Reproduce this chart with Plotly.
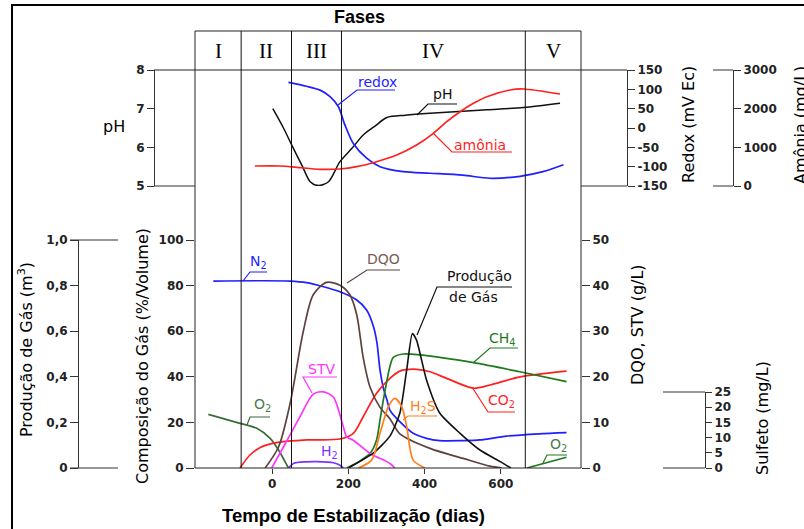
import plotly.graph_objects as go

W, H = 804, 529

# ---------------- data ----------------
phase_names = ["I", "II", "III", "IV", "V"]
phase_bounds = [-202, -81, 51, 182, 664, 810]
x_ticks = [0, 200, 400, 600]

# upper panel
ph_days = [2, 30, 52, 80, 100, 121, 148, 178, 210, 239, 270, 301, 350, 414, 500, 563, 659, 755]
ph_vals = [7.0, 6.5, 6.05, 5.5, 5.11, 5.01, 5.11, 5.63, 5.98, 6.32, 6.55, 6.77, 6.83, 6.88, 6.93, 6.97, 7.03, 7.14]
redox_days = [43, 90, 126, 152, 174, 191, 213, 248, 283, 344, 414, 500, 571, 650, 710, 764]
redox_vals = [118, 108, 98, 81, 55, 8, -40, -78, -100, -113, -117, -122, -130, -125, -113, -95]
amm_days = [-45, 21, 65, 126, 178, 222, 274, 327, 379, 423, 458, 493, 528, 563, 624, 659, 755]
amm_vals = [517, 517, 483, 432, 440, 500, 628, 802, 1060, 1363, 1663, 1921, 2138, 2310, 2483, 2509, 2379]

# lower panel: gas composition (%)
n2_days = [-154, 47, 91, 135, 178, 222, 248, 266, 275, 283, 292, 301, 309, 335, 370, 405, 440, 500, 545, 615, 700, 772]
n2_vals = [82, 82, 81.3, 79.5, 77.3, 73.7, 69.3, 62, 55, 43, 35, 30, 25.4, 20.3, 15.2, 13, 12, 12, 12.3, 14, 15, 15.5]
o2_days = [-167, -84, -40, -5, 17, 34, 43]
o2_vals = [23.5, 19.6, 17.4, 13, 7.9, 2.8, 0]
o2b_days = [668, 772]
o2b_vals = [0, 4.7]
h2_days = [43, 56, 90, 117, 161, 178, 187]
h2_vals = [0, 2, 2.7, 2.8, 2.3, 1.2, 0]
co2_days = [-84, -58, -31, 12, 91, 178, 213, 239, 274, 309, 335, 379, 414, 458, 528, 571, 650, 772]
co2_vals = [0, 5.7, 9, 11.1, 12.3, 12.7, 15.2, 22.5, 32.8, 39.3, 42.5, 43.3, 42.2, 39.3, 35, 36.4, 40, 42.5]
ch4_days = [196, 230, 257, 274, 283, 292, 309, 318, 344, 388, 528, 650, 772]
ch4_vals = [0, 3, 6.4, 12.3, 21, 30, 44.5, 48.5, 50, 49.6, 46.2, 42.2, 37.9]

# DQO / STV (g/L)
dqo_days = [-18, 17, 47, 82, 108, 143, 178, 204, 222, 239, 257, 283, 309, 335, 414, 501, 571, 602]
dqo_vals = [0, 4.6, 14, 30, 38, 40.7, 40.1, 38, 33.6, 24.2, 17.7, 13.3, 10.8, 7.5, 4.3, 2.1, 0.4, 0]
stv_days = [-1, 30, 73, 108, 135, 161, 187, 196, 213, 257, 309, 322]
stv_vals = [0, 4.6, 11.2, 16.2, 16.7, 15.5, 9, 6.8, 6.1, 3.2, 1, 0]

# sulfeto (mg/L)
h2s_days = [226, 261, 283, 305, 322, 340, 353, 370, 401]
h2s_vals = [0, 2.6, 11.4, 20.2, 22.9, 20.2, 13.6, 2.6, 0]

# gas production (m3)
gas_days = [200, 266, 309, 335, 353, 368, 379, 405, 440, 493, 545, 598, 626]
gas_vals = [0, 0.066, 0.14, 0.24, 0.43, 0.59, 0.56, 0.386, 0.24, 0.152, 0.079, 0.028, 0]

comp_ticks = [0, 20, 40, 60, 80, 100]
dqo_ticks = [0, 10, 20, 30, 40, 50]
gasprod_ticks = [0, 0.2, 0.4, 0.6, 0.8, 1.0]
gasprod_labels = ["0", "0,2", "0,4", "0,6", "0,8", "1,0"]
sulf_ticks = [0, 5, 10, 15, 20, 25]
ph_ticks = [5, 6, 7, 8]
redox_ticks = [-150, -100, -50, 0, 50, 100, 150]
redox_labels = ["-150", "-100", "-50", "0", "50", "100", "150"]
amm_ticks = [0, 1000, 2000, 3000]

# ---------------- helpers ----------------
def px(x):
    return x / W

def py(y):
    return 1 - y / H

TICKFONT = dict(family="DejaVu Sans", size=12, color="#222", weight="bold")
LBLFONT = "DejaVu Sans"
AX = "#333"

BLUE = "#1f1fff"
RED = "#ff1f1f"
BLACK = "#111111"
BROWN = "#5e4240"
GREEN = "#1f7a1f"
DKGREEN = "#3b6b3b"
MAGENTA = "#ff33ff"
ORANGE = "#ff7f1f"
PURPLE = "#7a33ff"

fig = go.Figure()

def line(xs, ys, color, yaxis, width=1.7, smooth=0.8):
    fig.add_trace(go.Scatter(x=xs, y=ys, mode="lines", yaxis=yaxis,
                             line=dict(color=color, width=width, shape="spline", smoothing=smooth),
                             hoverinfo="skip", showlegend=False))

# upper panel
line(ph_days, ph_vals, BLACK, "y5", 1.5)
line(redox_days, redox_vals, BLUE, "y6")
line(amm_days, amm_vals, RED, "y7")
# lower panel
line(n2_days, n2_vals, BLUE, "y")
line(o2_days, o2_vals, DKGREEN, "y")
line(o2b_days, o2b_vals, GREEN, "y", smooth=0)
line(h2_days, h2_vals, PURPLE, "y")
line(co2_days, co2_vals, RED, "y")
line(ch4_days, ch4_vals, GREEN, "y")
line(dqo_days, dqo_vals, BROWN, "y2")
line(stv_days, stv_vals, MAGENTA, "y2")
line(h2s_days, h2s_vals, ORANGE, "y4")
line(gas_days, gas_vals, BLACK, "y3", 1.6, 0.6)

common = dict(showgrid=False, zeroline=False, ticks="outside", tickcolor=AX, automargin=False,
              tickfont=TICKFONT, linecolor=AX, linewidth=1)

fig.update_layout(
    template="none",
    width=W, height=H, autosize=False,
    margin=dict(l=0, r=0, t=0, b=0, pad=0, autoexpand=False),
    paper_bgcolor="white", plot_bgcolor="rgba(0,0,0,0)",
    font=dict(family="DejaVu Sans", size=13, color="#111"),
    xaxis=dict(domain=[px(195), px(581)], range=[phase_bounds[0], phase_bounds[-1]],
               tickvals=x_ticks, ticklen=5, showline=False, anchor="y", **common),
    yaxis=dict(domain=[py(468), py(240)], range=[0, 100], tickvals=comp_ticks,
               ticklen=8, showline=False, anchor="x", **common),
    yaxis2=dict(overlaying="y", side="right", anchor="x", range=[0, 50],
                tickvals=dqo_ticks, ticklen=8, showline=False, **common),
    yaxis3=dict(overlaying="y", side="left", anchor="free", position=px(78), range=[0, 1],
                tickvals=gasprod_ticks, ticktext=gasprod_labels, ticklen=8, showline=True, **common),
    yaxis4=dict(domain=[py(468), py(392)], side="right", anchor="free", position=px(705),
                range=[0, 25], tickvals=sulf_ticks, ticklen=6, showline=True, **common),
    yaxis5=dict(domain=[py(186), py(70)], side="left", anchor="free", position=px(154),
                range=[5, 8], tickvals=ph_ticks, ticklen=7, showline=True, **common),
    yaxis6=dict(overlaying="y5", side="right", anchor="free", position=px(627),
                range=[-150, 150], tickvals=redox_ticks, ticktext=redox_labels, ticklen=7,
                showline=True, **common),
    yaxis7=dict(overlaying="y5", side="right", anchor="free", position=px(733),
                range=[0, 3000], tickvals=amm_ticks, ticklen=7, showline=True, **common),
)

shapes = []
def seg(x0, y0, x1, y1, color=AX, w=1):
    shapes.append(dict(type="line", xref="paper", yref="paper", x0=px(x0), y0=py(y0),
                       x1=px(x1), y1=py(y1), line=dict(color=color, width=w)))

# outer border
shapes.append(dict(type="rect", xref="paper", yref="paper", x0=px(12), y0=py(5), x1=1.05, y1=-0.05,
                   line=dict(color="black", width=2)))
# main box
shapes.append(dict(type="rect", xref="paper", yref="paper", x0=px(195), y0=py(31), x1=px(581), y1=py(468),
                   line=dict(color="#222", width=1)))
seg(154, 70, 627, 70, "#222")
# phase dividers
for b in phase_bounds[1:-1]:
    shapes.append(dict(type="line", xref="x", yref="paper", x0=b, x1=b, y0=py(468), y1=py(31),
                       line=dict(color="#111", width=1)))
# axis end lines
seg(70, 240, 118, 240)
seg(70, 468, 118, 468)
seg(154, 186, 195, 186)
seg(581, 186, 627, 186)
seg(713, 70, 733, 70)
seg(713, 186, 733, 186)
seg(663, 392, 705, 392)
seg(663, 468, 705, 468)

# leader lines for curve labels (pixel positions)
leaders = [
    ([(338, 105), (357, 90), (395, 90)], BLUE),
    ([(417, 115), (428, 104), (457, 104)], BLACK),
    ([(433, 133), (452, 152), (512, 152)], RED),
    ([(243, 281), (250, 272), (267, 272)], BLUE),
    ([(347, 283), (367, 270), (400, 270)], BROWN),
    ([(417, 335), (437, 287), (512, 287)], BLACK),
    ([(473, 363), (490, 348), (518, 348)], GREEN),
    ([(312, 393), (303, 377), (337, 377)], MAGENTA),
    ([(247, 425), (250, 417), (270, 417)], DKGREEN),
    ([(472, 387), (488, 412), (515, 412)], RED),
    ([(403, 420), (408, 416), (437, 416)], ORANGE),
    ([(543, 463), (547, 455), (567, 455)], GREEN),
]
for pts, col in leaders:
    path = "M " + " L ".join(f"{px(a):.5f},{py(b):.5f}" for a, b in pts)
    shapes.append(dict(type="path", xref="paper", yref="paper", path=path,
                       line=dict(color=col, width=1.2)))

fig.update_layout(shapes=shapes)

ann = []
def text(x, y, s, color="black", size=14, family=LBLFONT, angle=0, xanchor="center"):
    ann.append(dict(x=px(x), y=py(y), xref="paper", yref="paper", text=s, showarrow=False,
                    font=dict(family=family, size=size, color=color), textangle=angle,
                    xanchor=xanchor, yanchor="middle"))

# curve labels
text(377, 82, "redox", BLUE)
text(442, 94, "pH", BLACK)
text(480, 145, "amônia", RED)
text(258, 262, "N<sub>2</sub>", BLUE)
text(383, 259, "DQO", "#7a5a58")
text(445, 276, "Produção", BLACK, xanchor="left")
text(447, 297, "de Gás", BLACK, xanchor="left")
text(502, 339, "CH<sub>4</sub>", GREEN)
text(321, 369, "STV", MAGENTA)
text(262, 405, "O<sub>2</sub>", "#4a7a4a")
text(501, 401, "CO<sub>2</sub>", RED)
text(423, 407, "H<sub>2</sub>S", ORANGE)
text(329, 452, "H<sub>2</sub>", PURPLE)
text(558, 445, "O<sub>2</sub>", "#4a7a4a")

# phase labels
for name, a, b in zip(phase_names, phase_bounds[:-1], phase_bounds[1:]):
    ann.append(dict(x=(a + b) / 2, y=py(51), xref="x", yref="paper", text=name, showarrow=False,
                    font=dict(family="Liberation Serif", size=21, color="black"),
                    xanchor="center", yanchor="middle"))

# titles
text(359, 17, "<b>Fases</b>", size=18, family="Liberation Sans")
text(353, 515, "<b>Tempo de Estabilização (dias)</b>", size=18.5, family="Liberation Sans")
text(114, 126, "pH", size=16)
text(25, 350, "Produção de Gás (m<sup>3</sup>)", size=16, angle=-90)
text(142, 356, "Composição do Gás (%/Volume)", size=16, angle=-90)
text(637, 325, "DQO, STV (g/L)", size=16, angle=-90)
text(762, 418, "Sulfeto (mg/L)", size=16, angle=-90)
text(688, 125, "Redox (mV Ec)", size=16, angle=-90)
text(800, 125, "Amônia (mg/L)", size=16, angle=-90)

fig.update_layout(annotations=ann)

fig.write_html("out.html", config={"displayModeBar": False},
               post_script="document.body.style.margin='0';document.body.style.overflow='hidden';")
